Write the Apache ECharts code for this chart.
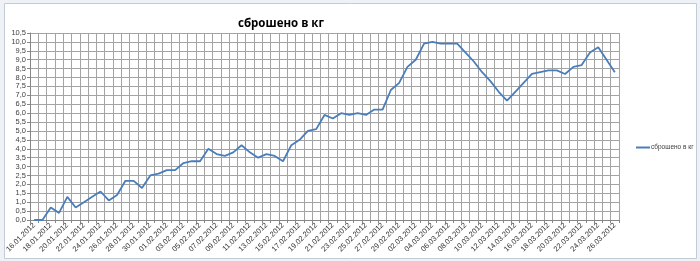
<!DOCTYPE html>
<html>
<head>
<meta charset="utf-8">
<script src="https://cdn.jsdelivr.net/npm/echarts@6/dist/echarts.min.js"></script>
<style>
html,body{margin:0;padding:0;background:#eef2f6;}
#c{width:700px;height:261px;}
</style>
</head>
<body>
<div id="c"></div>
<script>
const seriesName = 'сброшено в кг';
const titleText = 'сброшено в кг';
const dates = [
 '16.01.2012','17.01.2012','18.01.2012','19.01.2012','20.01.2012','21.01.2012','22.01.2012','23.01.2012',
 '24.01.2012','25.01.2012','26.01.2012','27.01.2012','28.01.2012','29.01.2012','30.01.2012','31.01.2012',
 '01.02.2012','02.02.2012','03.02.2012','04.02.2012','05.02.2012','06.02.2012','07.02.2012','08.02.2012',
 '09.02.2012','10.02.2012','11.02.2012','12.02.2012','13.02.2012','14.02.2012','15.02.2012','16.02.2012',
 '17.02.2012','18.02.2012','19.02.2012','20.02.2012','21.02.2012','22.02.2012','23.02.2012','24.02.2012',
 '25.02.2012','26.02.2012','27.02.2012','28.02.2012','29.02.2012',
 '01.03.2012','02.03.2012','03.03.2012','04.03.2012','05.03.2012','06.03.2012','07.03.2012','08.03.2012',
 '09.03.2012','10.03.2012','11.03.2012','12.03.2012','13.03.2012','14.03.2012','15.03.2012','16.03.2012',
 '17.03.2012','18.03.2012','19.03.2012','20.03.2012','21.03.2012','22.03.2012','23.03.2012','24.03.2012',
 '25.03.2012','26.03.2012'
];
const lostKg = [
 0.0,0.0,0.7,0.4,1.3,0.7,1.0,1.3,
 1.6,1.1,1.4,2.2,2.2,1.8,2.5,2.6,
 2.8,2.8,3.2,3.3,3.3,4.0,3.7,3.6,
 3.8,4.2,3.8,3.5,3.7,3.6,3.3,4.2,
 4.5,5.0,5.1,5.9,5.7,6.0,5.9,6.0,
 5.9,6.2,6.2,7.3,7.7,
 8.6,9.0,9.9,10.0,9.9,9.9,9.9,9.4,
 8.9,8.3,7.8,7.2,6.7,7.2,7.7,8.2,
 8.3,8.4,8.4,8.2,8.6,8.7,9.4,9.7,
 9.0,8.3
];
const yMin = 0, yMax = 10.5, yStep = 0.5;

const chart = echarts.init(document.getElementById('c'), null, {renderer:'canvas'});
const gridColor = '#a3a3a3';
chart.setOption({
  animation:false,
  backgroundColor:'#eef2f6',
  textStyle:{fontFamily:'Liberation Sans'},
  graphic:[{
    type:'rect', z:-10, silent:true,
    shape:{x:4.5,y:3.5,width:692,height:255},
    style:{fill:'#ffffff',stroke:'#c3ccd6',lineWidth:1}
  }],
  title:{
    text:titleText, left:276, top:13, textAlign:'center',
    textStyle:{fontFamily:'Open Sans',fontSize:11.5,fontWeight:'bold',color:'#000'}
  },
  legend:{
    data:[seriesName], left:631, top:139, icon:'rect', itemWidth:14, itemHeight:2, itemGap:2,
    textStyle:{fontSize:6.5,color:'#404040',padding:[0,0,0,-4]}
  },
  grid:{left:30,right:81,top:33,bottom:41,containLabel:false},
  xAxis:{
    type:'category', data:dates, boundaryGap:true,
    axisLine:{lineStyle:{color:'#868686',width:1}},
    axisTick:{show:true,interval:0,length:3,lineStyle:{color:'#868686'}},
    axisLabel:{interval:1,rotate:45,fontSize:7.5,color:'#333333',margin:4},
    splitLine:{show:true,interval:0,lineStyle:{color:gridColor,width:1}}
  },
  yAxis:{
    type:'value', min:yMin, max:yMax, interval:yStep,
    axisLine:{show:true,lineStyle:{color:'#868686'}},
    axisTick:{show:true,length:3,lineStyle:{color:'#868686'}},
    axisLabel:{fontSize:7.5,color:'#404040',margin:4,
      formatter:v=>v.toFixed(1).replace('.',',')},
    splitLine:{show:true,lineStyle:{color:gridColor,width:1}}
  },
  series:[{
    name:seriesName, type:'line', data:lostKg, showSymbol:false, symbol:'none',
    lineStyle:{color:'#4a7ebb',width:1.8}, itemStyle:{color:'#4a7ebb'}
  }]
});
</script>
</body>
</html>
